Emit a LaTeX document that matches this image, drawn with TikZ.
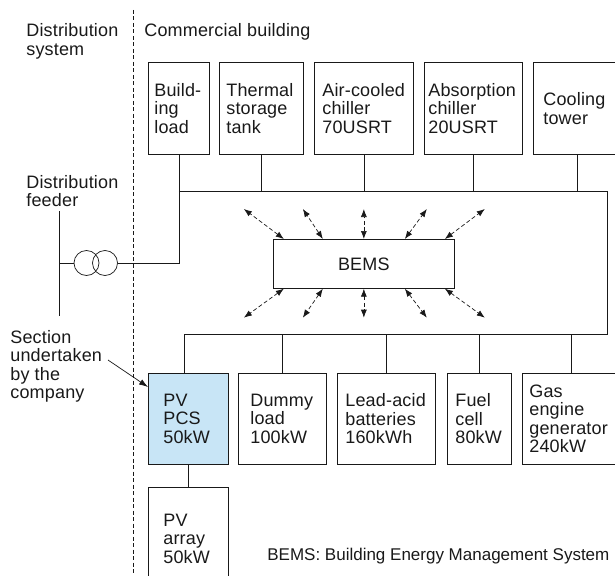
\documentclass[tikz,border=0pt]{standalone}
\usepackage{fontspec}
\setmainfont{Liberation Sans}[LetterSpace=1]
\newfontfamily\notefont{Liberation Sans}
\usetikzlibrary{arrows.meta}
\definecolor{pcsblue}{RGB}{200,229,246}

\begin{document}
\begin{tikzpicture}[x=1pt, y=-1pt, line width=0.7pt, color=black!90,
    font=\fontsize{18}{18.5}\selectfont,
    unit/.style={draw, align=left, anchor=north west, inner ysep=0pt},
    txt/.style={anchor=base west, align=left, inner sep=0pt},
    coil/.style={circle, draw, minimum size=25pt, inner sep=0pt},
    link/.style={dash pattern=on 4pt off 2.5pt, {Latex[length=8pt,width=6pt]}-{Latex[length=8pt,width=6pt]}}]
    \useasboundingbox (0,0) rectangle (615,575);
    %
    \draw[dash pattern=on 4pt off 2.5pt] (133,10) -- (133,575);
    \node[txt] (sysText) at (26,55.5) {Distribution\\system};
    \node[txt] (bldText) at (144,37) {Commercial building};
    \node[txt] (fdText) at (26,206.5) {Distribution\\feeder};
    \node[txt] (secText) at (10,398.5) {Section\\undertaken\\by the\\company};
    \node[txt, font=\notefont\fontsize{17}{18.5}\selectfont] (noteText) at (267,560) {BEMS: Building Energy Management System};
    %
    \node[unit, minimum height=92pt, inner xsep=6pt, text width=49pt] (load) at (148,62) {Build-\\ing\\load};
    \node[unit, minimum height=92pt, inner xsep=7pt, text width=70pt] (tank) at (219,62) {Thermal\\storage\\tank};
    \node[unit, minimum height=92pt, inner xsep=8pt, text width=83pt] (air) at (314,62) {Air-cooled\\chiller\\70USRT};
    \node[unit, minimum height=92pt, inner xsep=4pt, text width=90pt] (absorb) at (424,62) {Absorption\\chiller\\20USRT};
    \node[unit, minimum height=92pt, inner xsep=10pt, text width=67pt] (tower) at (533,62) {Cooling\\tower};
    %
    \node[draw, minimum width=181pt, minimum height=49pt, anchor=north west] (bems) at (273,239) {BEMS};
    %
    \node[unit, minimum height=91pt, inner xsep=15pt, text width=50pt, fill=pcsblue] (pcs) at (148,373) {PV\\PCS\\50kW};
    \node[unit, minimum height=91pt, inner xsep=12pt, text width=64pt] (dummy) at (238,373) {Dummy\\load\\100kW};
    \node[unit, minimum height=91pt, inner xsep=8pt, text width=82pt] (lead) at (337,373) {Lead-acid\\batteries\\160kWh};
    \node[unit, minimum height=91pt, inner xsep=8pt, text width=48pt] (fuel) at (447,373) {Fuel\\cell\\80kW};
    \node[unit, minimum height=91pt, inner xsep=7pt, text width=84pt] (gas) at (522,373) {Gas\\engine\\generator\\240kW};
    \node[unit, minimum height=103pt, inner xsep=15pt, text width=50pt] (array) at (148,487) {PV\\array\\50kW};
    %
    \node[coil] (xfB) at (105,263) {};
    \node[coil] (xfA) at (86.5,263) {};
    \coordinate (fdTop) at (59,211);
    \coordinate (fdBot) at (59,316);
    \draw (fdTop) -- (fdBot);
    \draw (fdTop |- xfA.west) -- (xfA.west);
    %
    \coordinate (busTR) at (607,191);
    \coordinate (busBR) at (607,334);
    \draw (load.south) -- (load.south |- xfB.east) -- (xfB.east);
    \draw (load.south |- busTR) -- (busTR) -- (busBR) -- ([xshift=-4pt]pcs.north |- busBR) -- ([xshift=-4pt]pcs.north);
    \foreach \n in {tank, air, absorb, tower} \draw (\n.south) -- (\n.south |- busTR);
    \foreach \n in {dummy, lead, fuel, gas} \draw (\n.north) -- (\n.north |- busBR);
    \draw (pcs.south) -- (array.north);
    %
    \foreach \dx/\ex in {-80/-120, -41/-61, 0/0, 41/63, 81/121} {
        \draw[link] ([xshift=\dx pt]bems.north) -- ++({\ex-\dx},-30);
        \draw[link] ([xshift=\dx pt]bems.south) -- ++({\ex-\dx},29);
    }
    %
    \coordinate (secFrom) at (108,360);
    \draw[-{Latex[length=9pt,width=6pt]}] (secFrom) -- ([yshift=-14pt]pcs.north west);
\end{tikzpicture}
\end{document}
